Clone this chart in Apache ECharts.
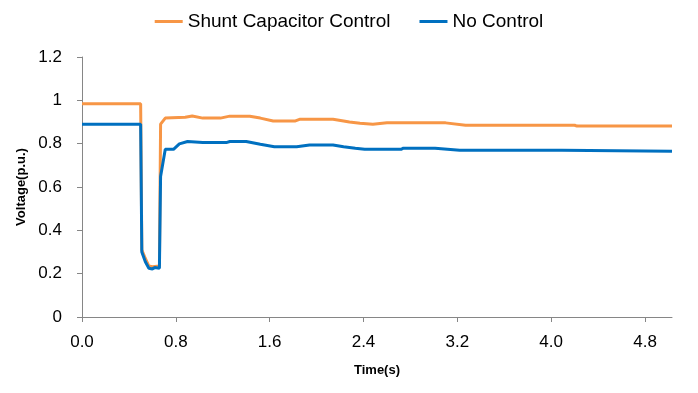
<!DOCTYPE html>
<html>
<head>
<meta charset="utf-8">
<script src="https://cdn.jsdelivr.net/npm/echarts@6/dist/echarts.min.js"></script>
<style>html,body{margin:0;padding:0;background:#fff;}#chart{width:698px;height:393px;}</style>
</head>
<body>
<div id="chart"></div>
<script>
const seriesNames = ['Shunt Capacitor Control', 'No Control'];
const xTicks = ['0.0', '0.8', '1.6', '2.4', '3.2', '4.0', '4.8'];
const yTicks = ['0', '0.2', '0.4', '0.6', '0.8', '1', '1.2'];

const shuntTime = [0, 0.50, 0.51, 0.54, 0.57, 0.60, 0.66, 0.67, 0.71, 0.88, 0.94, 1.03, 1.18, 1.26, 1.43, 1.52, 1.63, 1.82, 1.86, 2.14, 2.23, 2.28, 2.37, 2.48, 2.60, 3.10, 3.11, 3.27, 4.20, 4.22, 5.03];
const shuntVoltage = [0.984, 0.984, 0.31, 0.27, 0.235, 0.232, 0.235, 0.89, 0.918, 0.922, 0.928, 0.918, 0.918, 0.927, 0.927, 0.918, 0.905, 0.905, 0.913, 0.913, 0.905, 0.90, 0.894, 0.89, 0.896, 0.896, 0.891, 0.885, 0.885, 0.881, 0.881];

const noCtrlTime = [0, 0.50, 0.51, 0.54, 0.57, 0.60, 0.62, 0.66, 0.67, 0.71, 0.78, 0.83, 0.90, 1.03, 1.23, 1.26, 1.40, 1.52, 1.64, 1.83, 1.94, 2.14, 2.23, 2.33, 2.41, 2.72, 2.74, 3.01, 3.02, 3.22, 4.09, 4.10, 5.03];
const noCtrlVoltage = [0.89, 0.89, 0.30, 0.255, 0.225, 0.222, 0.228, 0.225, 0.648, 0.774, 0.774, 0.799, 0.81, 0.805, 0.805, 0.81, 0.81, 0.797, 0.786, 0.786, 0.794, 0.794, 0.786, 0.779, 0.774, 0.774, 0.779, 0.779, 0.774, 0.77, 0.77, 0.765, 0.765];

const pair = (xs, ys) => xs.map((x, i) => [x, ys[i]]);
const FONT = '"Liberation Sans", Arial, sans-serif';
const axisColor = '#868686';

const chart = echarts.init(document.getElementById('chart'), null, {renderer: 'canvas'});
chart.setOption({
  animation: false,
  backgroundColor: '#ffffff',
  textStyle: {fontFamily: FONT},
  legend: {
    top: 7,
    left: 'center',
    itemWidth: 28,
    itemHeight: 3,
    itemGap: 29,
    icon: 'rect',
    textStyle: {fontFamily: FONT, fontSize: 19, color: '#000'},
    data: seriesNames
  },
  grid: {left: 82, right: 26, top: 57, bottom: 76, containLabel: false, outerBoundsMode: 'none'},
  xAxis: {
    type: 'value',
    min: 0,
    max: 5.03,
    interval: 0.8,
    name: 'Time(s)',
    nameLocation: 'middle',
    nameGap: 47,
    nameTextStyle: {fontFamily: FONT, fontSize: 13, fontWeight: 'bold', color: '#000'},
    axisLine: {show: true, lineStyle: {color: axisColor, width: 1}},
    axisTick: {show: true, length: 5, lineStyle: {color: axisColor}},
    splitLine: {show: false},
    axisLabel: {
      fontFamily: FONT, fontSize: 17, color: '#000', margin: 17,
      showMaxLabel: false,
      formatter: v => { const i = Math.round(v / 0.8); return xTicks[i] !== undefined ? xTicks[i] : ''; }
    }
  },
  yAxis: {
    type: 'value',
    min: 0,
    max: 1.2,
    interval: 0.2,
    name: 'Voltage(p.u.)',
    nameLocation: 'middle',
    nameGap: 52,
    nameTextStyle: {fontFamily: FONT, fontSize: 13, fontWeight: 'bold', color: '#000'},
    axisLine: {show: true, lineStyle: {color: axisColor, width: 1}},
    axisTick: {show: true, length: 5, lineStyle: {color: axisColor}},
    splitLine: {show: false},
    axisLabel: {
      fontFamily: FONT, fontSize: 17, color: '#000', margin: 20,
      formatter: v => { const i = Math.round(v / 0.2); return yTicks[i] !== undefined ? yTicks[i] : ''; }
    }
  },
  series: [
    {
      name: seriesNames[0], type: 'line', symbol: 'none', showSymbol: false,
      data: pair(shuntTime, shuntVoltage),
      lineStyle: {color: '#F79646', width: 3}, itemStyle: {color: '#F79646'}
    },
    {
      name: seriesNames[1], type: 'line', symbol: 'none', showSymbol: false,
      data: pair(noCtrlTime, noCtrlVoltage),
      lineStyle: {color: '#0070C0', width: 3}, itemStyle: {color: '#0070C0'}
    }
  ]
});
</script>
</body>
</html>
